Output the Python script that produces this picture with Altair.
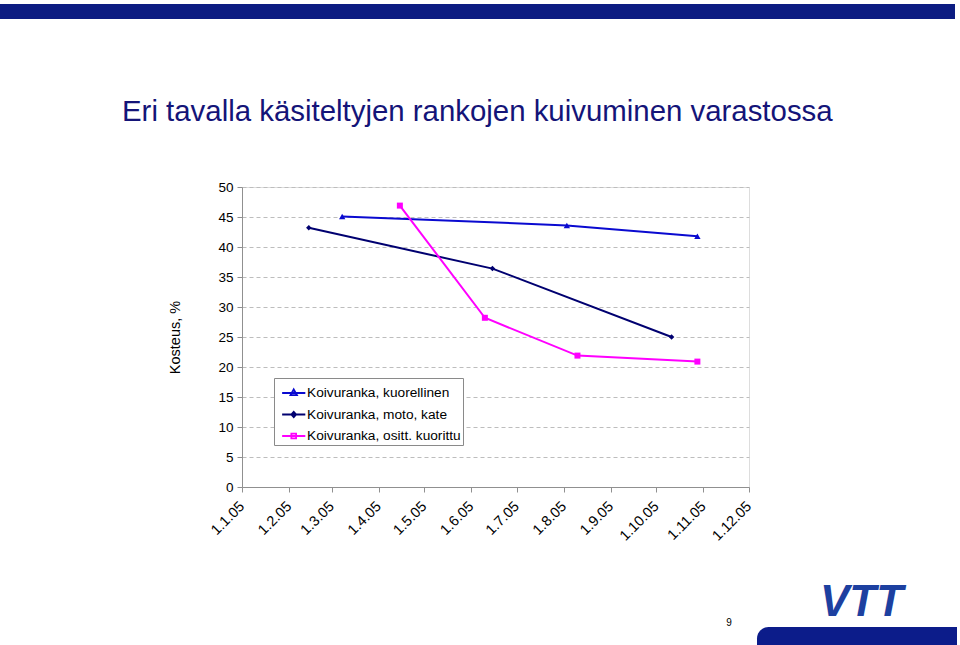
import altair as alt
import pandas as pd

# ---- data ----
SERIES = ["Koivuranka, kuorellinen", "Koivuranka, moto, kate", "Koivuranka, ositt. kuorittu"]
COLORS = ["#0a0ad0", "#000070", "#ff00ff"]
MARKERS = ["triangle-up", "diamond", "square"]
MARKER_SIZES = [40, 30, 36]

kuorellinen_dates = ["2005-03-08", "2005-08-03", "2005-10-28"]
kuorellinen_vals = [45.1, 43.6, 41.8]

moto_dates = ["2005-02-14", "2005-06-15", "2005-10-11"]
moto_vals = [43.2, 36.4, 25.0]

kuorittu_dates = ["2005-04-15", "2005-06-10", "2005-08-10", "2005-10-28"]
kuorittu_vals = [46.9, 28.2, 21.9, 20.9]

Y_TICKS = [0, 5, 10, 15, 20, 25, 30, 35, 40, 45, 50]
MONTHS = list(range(1, 13))

TITLE = "Eri tavalla käsiteltyjen rankojen kuivuminen varastossa"
Y_TITLE = "Kosteus, %"
PAGE = "9"
LOGO = "VTT"

rows = []
for name, ds, vs in [(SERIES[0], kuorellinen_dates, kuorellinen_vals),
                     (SERIES[1], moto_dates, moto_vals),
                     (SERIES[2], kuorittu_dates, kuorittu_vals)]:
    for d, v in zip(ds, vs):
        rows.append({"series": name, "date": d, "value": v})
df = pd.DataFrame(rows)

FONT = "Liberation Sans"
PL, PT, W, H = 242, 187, 507, 300

x_enc = alt.X(
    "date:T",
    scale=alt.Scale(type="utc",
                    domain=[alt.DateTime(year=2005, month=1, date=1, utc=True),
                            alt.DateTime(year=2005, month=12, date=1, utc=True)]),
    axis=alt.Axis(
        values=[alt.DateTime(year=2005, month=m, date=1, utc=True) for m in MONTHS],
        labelExpr="utcdate(datum.value) + '.' + (utcmonth(datum.value) + 1) + '.05'",
        labelAngle=315, labelAlign="right", labelBaseline="middle",
        labelFontSize=14.5, labelFont=FONT, labelColor="black", labelPadding=12,
        tickSize=5, tickColor="#909090", domainColor="#909090",
        grid=False, title=None, labelOverlap=False, labelFlush=False,
    ),
)
y_enc = alt.Y(
    "value:Q",
    scale=alt.Scale(domain=[0, 50], nice=False, zero=True),
    axis=alt.Axis(
        values=Y_TICKS, labelFontSize=13.5, labelFont=FONT, labelColor="black",
        tickSize=5, tickColor="#909090", domainColor="#909090", labelPadding=4,
        grid=True, gridColor="#bdbdbd", gridDash=[4, 3],
        title=Y_TITLE, titleFont=FONT, titleFontSize=14.5, titleFontWeight="normal",
        titleColor="black", titleAngle=270, titleX=-67, titleY=150,
        titleAlign="center", titleBaseline="middle",
    ),
)

color_scale = alt.Scale(domain=SERIES, range=COLORS)

# legend symbols: short line with the series marker in the middle
LEGEND_PATHS = [
    "M-0.58,0H1.38M0.4,-0.3L0.67,0.18H0.13Z",
    "M-0.58,0H1.38M0.4,-0.22L0.6,0L0.4,0.22L0.2,0Z",
    "M-0.58,0H1.38M0.2,-0.2H0.6V0.2H0.2Z",
]

leg = alt.Legend(
    title=None, orient="none", legendX=32, legendY=191,
    fillColor="white", strokeColor="#8a8a8a", padding=2,
    labelFont=FONT, labelFontSize=13.7, labelColor="black",
    labelLimit=400, labelOffset=5, symbolSize=560, rowPadding=1.5,
    symbolStrokeWidth=1.8,
)

lines = alt.Chart(df).mark_line(strokeWidth=2).encode(
    x=x_enc, y=y_enc,
    color=alt.Color("series:N", scale=color_scale, legend=None),
    detail="series:N",
)

# invisible marks that only provide the legend (line + marker symbols)
legend_layer = alt.Chart(df).mark_point(opacity=0, strokeWidth=1.8).encode(
    x=x_enc, y=y_enc,
    fill=alt.Fill("series:N", scale=color_scale, legend=leg),
    stroke=alt.Stroke("series:N", scale=color_scale, legend=leg),
    shape=alt.Shape("series:N", scale=alt.Scale(domain=SERIES, range=LEGEND_PATHS), legend=leg),
)

point_layers = []
for name, shp, sz in zip(SERIES, MARKERS, MARKER_SIZES):
    point_layers.append(
        alt.Chart(df).transform_filter(alt.datum.series == name).mark_point(
            filled=True, opacity=1, shape=shp, size=sz).encode(
            x=x_enc, y=y_enc,
            color=alt.Color("series:N", scale=color_scale, legend=None),
        )
    )

one = alt.Data(values=[{}])

top_bar = alt.Chart(one).mark_rect(color="#0c1c82").encode(
    x=alt.value(0 - PL), x2=alt.value(955 - PL), y=alt.value(4 - PT), y2=alt.value(19 - PT))
bottom_bar = alt.Chart(one).mark_rect(color="#0c1c8a", cornerRadiusTopLeft=14).encode(
    x=alt.value(757 - PL), x2=alt.value(957 - PL), y=alt.value(627 - PT), y2=alt.value(650 - PT))

title = alt.Chart(one).mark_text(align="left", baseline="alphabetic", font=FONT,
                                 fontSize=29.4, color="#141478").encode(
    x=alt.value(122 - PL), y=alt.value(121 - PT), text=alt.value(TITLE))
page = alt.Chart(one).mark_text(align="center", baseline="alphabetic", font=FONT,
                                fontSize=10, color="black").encode(
    x=alt.value(729 - PL), y=alt.value(626 - PT), text=alt.value(PAGE))
logo = alt.Chart(one).mark_text(align="left", baseline="alphabetic", font=FONT,
                                fontSize=44, fontStyle="italic", fontWeight="bold",
                                color="#1d40a0").encode(
    x=alt.value(820 - PL), y=alt.value(616 - PT), text=alt.value(LOGO))

chart = alt.layer(top_bar, bottom_bar, title, page, logo, lines, legend_layer, *point_layers).resolve_scale(
    fill="independent", stroke="independent", shape="independent"
).properties(
    width=W, height=H,
    padding={"left": PL, "top": PT, "right": 960 - PL - W, "bottom": 645 - PT - H},
    autosize=alt.AutoSizeParams(type="none"),
).configure_view(stroke="#a0a0a0", strokeWidth=1).configure(background="white")

chart.save("out.html", embed_options={"renderer": "svg", "actions": False})
